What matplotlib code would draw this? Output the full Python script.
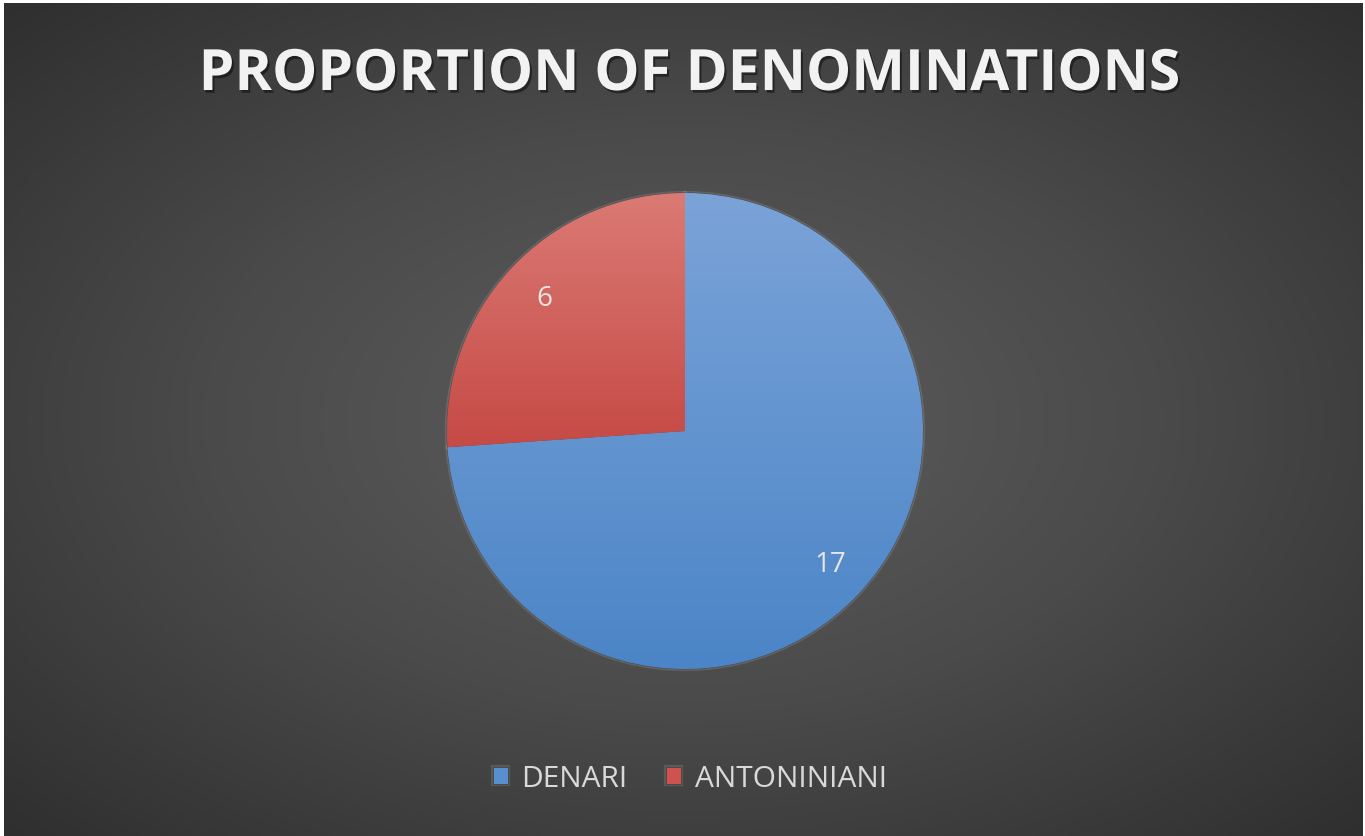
import numpy as np
import matplotlib.pyplot as plt
import matplotlib.patheffects as pe
from matplotlib.colors import LinearSegmentedColormap

plt.rcParams['font.family'] = ['Open Sans', 'DejaVu Sans']

# data
categories = ['DENARI', 'ANTONINIANI']
counts = [17, 6]
title = 'PROPORTION OF DENOMINATIONS'

# gradient colours per slice (top, bottom)
slice_colors = [('#7ba3d8', '#4b85c7'), ('#db7a74', '#c64a46')]
flat_colors = ['#5a8fcf', '#d0524e']

W, H = 1365, 837
fig = plt.figure(figsize=(W / 100, H / 100), dpi=100, facecolor='white')

# radial gradient background (thin white border on top/left like the screenshot)
bg = fig.add_axes([4 / W, 0, (W - 6) / W, (H - 4) / H])
bg.set_axis_off()
yy, xx = np.mgrid[-1:1:400j, -1:1:600j]
rr = np.sqrt(xx ** 2 + yy ** 2) / np.sqrt(2)
bg_cmap = LinearSegmentedColormap.from_list('bg', ['#5e5e5e', '#4a4a4a', '#2f2f2f'])
bg.imshow(rr, cmap=bg_cmap, vmin=0, vmax=1, aspect='auto', extent=[0, 1, 0, 1])
bg.set_xlim(0, 1)
bg.set_ylim(0, 1)

# pie axes
cx, cy, R = 685, 432, 238
ax = fig.add_axes([(cx - R) / W, 1 - (cy + R) / H, 2 * R / W, 2 * R / H])
ax.set_axis_off()
total = sum(counts)
wedges, texts, autotexts = ax.pie(
    counts,
    colors=flat_colors,
    startangle=90,
    counterclock=False,
    autopct=lambda p: f'{p * total / 100:.0f}',
    pctdistance=0.82,
    wedgeprops=dict(edgecolor='#444444', linewidth=0.6),
    textprops=dict(color='#e6e6e6', fontsize=20),
)

# vertical gradient fill clipped to each wedge
for w, (top, bot) in zip(wedges, slice_colors):
    ext = w.get_path().get_extents(w.get_patch_transform())
    cm = LinearSegmentedColormap.from_list('g', [bot, top])
    grad = np.linspace(0, 1, 256).reshape(-1, 1)
    im = ax.imshow(grad, cmap=cm, origin='lower', aspect='auto',
                   extent=[-1, 1, ext.y0, ext.y1], zorder=w.get_zorder() + 0.1)
    im.set_clip_path(w)
    w.set_path_effects([pe.Stroke(linewidth=3, foreground='#ffffff', alpha=0.12), pe.Normal()])
for t in autotexts:
    t.set_zorder(5)
    t.set_x(t.get_position()[0] + 0.01)
ax.set_xlim(-1.0, 1.0)
ax.set_ylim(-1.0, 1.0)

# title
fig.text(690 / W, 1 - 91 / H, title, ha='center', va='baseline',
         fontsize=41, fontweight='bold', color='#f2f2f2',
         path_effects=[pe.SimplePatchShadow(offset=(1.5, -2), shadow_rgbFace='black', alpha=0.45),
                       pe.Normal()])

# legend
leg = fig.legend(wedges, categories, loc='center', bbox_to_anchor=(690 / W, 1 - 780 / H),
                 ncol=2, frameon=False, fontsize=21.5, labelcolor='#d9d9d9',
                 handlelength=0.5, handleheight=0.5, handletextpad=0.45,
                 columnspacing=1.3)

fig.savefig('out.png', dpi=100, facecolor=fig.get_facecolor())
